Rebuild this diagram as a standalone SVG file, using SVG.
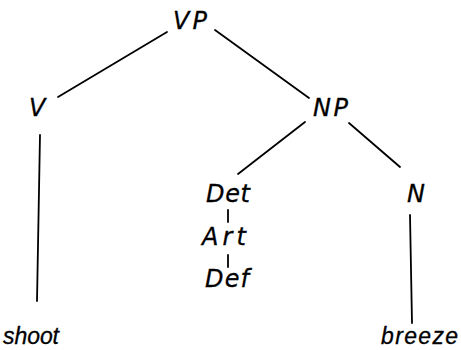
<svg xmlns="http://www.w3.org/2000/svg" width="461" height="350" viewBox="0 0 461 350">
<style>
.t{font-family:"DejaVu Sans","Liberation Sans",sans-serif;font-style:italic;font-size:24px;fill:#000;stroke:#000;stroke-width:0.3}
.s{font-family:"Liberation Sans",Arial,sans-serif;font-size:23px}
.e{stroke:#000;stroke-width:1.8;fill:none;stroke-linecap:round}
</style>
<rect width="461" height="350" fill="#fff"/>
<g id="edges">
<line class="e" x1="167" y1="32" x2="58" y2="97"/>
<line class="e" x1="215" y1="30" x2="309" y2="98"/>
<line class="e" x1="40" y1="135" x2="37" y2="301"/>
<line class="e" x1="305" y1="122" x2="238" y2="174"/>
<line class="e" x1="349" y1="123" x2="400" y2="167"/>
<line class="e" x1="228" y1="210" x2="228" y2="222"/>
<line class="e" x1="228" y1="255" x2="228" y2="267"/>
<line class="e" x1="410" y1="215" x2="412" y2="323"/>
</g>
<g id="VP"><text class="t" x="173" y="29" textLength="34" lengthAdjust="spacing">VP</text></g>
<g id="V"><text class="t" x="29" y="116">V</text></g>
<g id="NP"><text class="t" x="313" y="116" textLength="35" lengthAdjust="spacing">NP</text></g>
<g id="Det"><text class="t" x="206" y="202" textLength="44" lengthAdjust="spacing">Det</text></g>
<g id="Art"><text class="t" x="202" y="245" textLength="44" lengthAdjust="spacing">Art</text></g>
<g id="Def"><text class="t" x="205" y="287" textLength="44" lengthAdjust="spacing">Def</text></g>
<g id="N"><text class="t" x="407" y="202">N</text></g>
<g id="shoot"><text class="t s" x="3" y="344" textLength="56" lengthAdjust="spacing">shoot</text></g>
<g id="breeze"><text class="t s" x="381" y="344" textLength="77" lengthAdjust="spacing">breeze</text></g>
</svg>
